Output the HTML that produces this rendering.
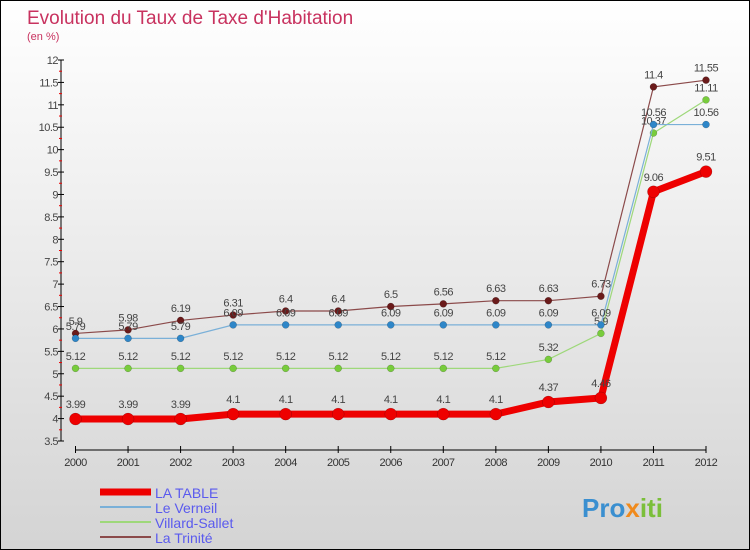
<!DOCTYPE html>
<html><head><meta charset="utf-8"><style>
html,body{margin:0;padding:0}
body{width:750px;height:550px;overflow:hidden;font-family:"Liberation Sans",sans-serif}
#wrap{position:absolute;left:0;top:0;width:748px;height:548px;border:1px solid #000;background:linear-gradient(#ffffff,#d4d4d4)}
</style></head><body>
<div id="wrap">
<svg id="chart" width="750" height="550" style="position:absolute;left:-1px;top:-1px">
<text x="27" y="24" font-size="19" fill="#c8325f">Evolution du Taux de Taxe d'Habitation</text>
<text x="27" y="40" font-size="11" fill="#c8325f">(en %)</text>
<g id="axes"></g><g id="series"></g><g id="legend"></g>
<text x="582" y="517" font-size="26" font-weight="bold" fill="#3a8fd0">Pro<tspan fill="#f08a1c">x</tspan><tspan fill="#7bbf3a">iti</tspan></text>
</svg>
</div>
<script>
const years=[2000,2001,2002,2003,2004,2005,2006,2007,2008,2009,2010,2011,2012];
const laTable=[3.99,3.99,3.99,4.1,4.1,4.1,4.1,4.1,4.1,4.37,4.46,9.06,9.51];
const leVerneil=[5.79,5.79,5.79,6.09,6.09,6.09,6.09,6.09,6.09,6.09,6.09,10.56,10.56];
const villard=[5.12,5.12,5.12,5.12,5.12,5.12,5.12,5.12,5.12,5.32,5.9,10.37,11.11];
const trinite=[5.9,5.98,6.19,6.31,6.4,6.4,6.5,6.56,6.63,6.63,6.73,11.4,11.55];
const yTicks=[3.5,4,4.5,5,5.5,6,6.5,7,7.5,8,8.5,9,9.5,10,10.5,11,11.5,12];
const seriesNames=["LA TABLE","Le Verneil","Villard-Sallet","La Trinité"];
const NS="http://www.w3.org/2000/svg";
function X(i){return 75.5+i*(706-75.5)/12;}
function Y(v){return 441-(v-3.5)*(381/8.5);}
function el(t,a,p){const e=document.createElementNS(NS,t);for(const k in a)e.setAttribute(k,a[k]);p.appendChild(e);return e;}
const ax=document.getElementById('axes');
const yl=el('line',{x1:61,y1:Y(12),x2:61,y2:Y(3.5),stroke:'#000'},ax);


yTicks.forEach(v=>{
 el('line',{x1:58,x2:64,y1:Y(v),y2:Y(v),stroke:'#000'},ax);
 if(v<12) el('line',{x1:59,x2:62,y1:Y(v+0.25),y2:Y(v+0.25),stroke:'#e00'},ax);
 const t=el('text',{x:58,y:Y(v)+4,'font-size':11,fill:'#444','text-anchor':'end','letter-spacing':'-0.5'},ax);
 t.textContent=String(v);
 
 
});
const xl=el('line',{x1:X(0),x2:X(12),y1:450,y2:450,stroke:'#000'},ax);


years.forEach((y,i)=>{
 el('line',{x1:X(i),x2:X(i),y1:446,y2:453,stroke:'#000'},ax);
 const t=el('text',{x:X(i),y:466,'font-size':11,fill:'#333','text-anchor':'middle','letter-spacing':'-0.5'},ax);
 t.textContent=String(y);
 
 
});
const sg=document.getElementById('series');
function draw(vals,color,lw,r,name,dot){
 const g=el('g',{},sg);
 
 
 el('polyline',{points:vals.map((v,i)=>X(i)+','+Y(v)).join(' '),fill:'none',stroke:color,'stroke-width':lw},g);
 vals.forEach((v,i)=>{
  const c=el('circle',{cx:X(i),cy:Y(v),r:r,fill:dot,stroke:'rgba(0,0,0,0.3)','stroke-width':0.5},g);
  
  
  const t=el('text',{x:X(i),y:Y(v)-r-5,'font-size':11,fill:'#444','text-anchor':'middle','letter-spacing':'-0.5'},g);
  t.textContent=String(v);
  
  
 });
}
draw(trinite,'#8b4a4a',1.2,3.5,'series-la-trinite','#6a1a1a');
draw(villard,'#9ed87a',1.2,3.5,'series-villard-sallet','#78cc3c');
draw(leVerneil,'#7ab0d8',1.2,3.5,'series-le-verneil','#2e86c8');
draw(laTable,'#ee0000',7,6,'series-la-table','#ee0000');
const lg=document.getElementById('legend');
const lc=[['#ee0000',7],['#7ab0d8',2],['#9ed87a',2],['#8b4a4a',2]];
seriesNames.forEach((n,i)=>{
 const y=492+i*15;
 el('line',{x1:100,x2:151,y1:y,y2:y,stroke:lc[i][0],'stroke-width':lc[i][1]},lg);
 const t=el('text',{x:155,y:y+6,'font-size':14,fill:'#5a5aee'},lg);
 t.textContent=n;
 
 
});
</script>
</body></html>
